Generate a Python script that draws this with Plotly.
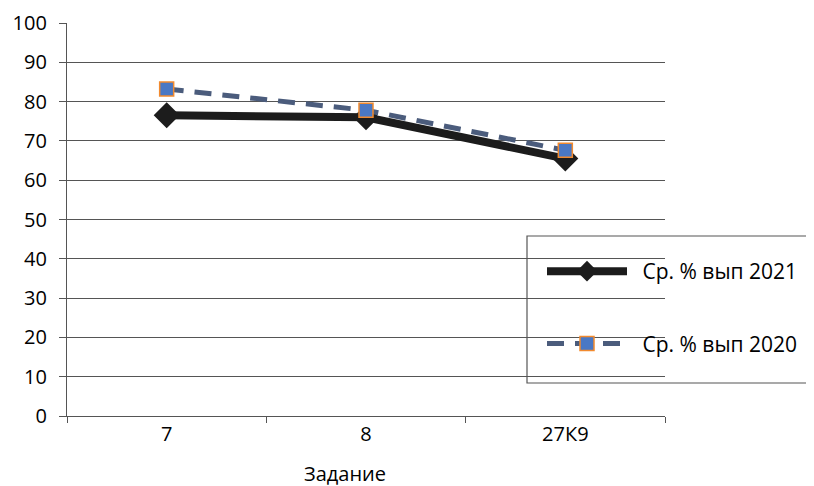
import plotly.graph_objects as go

categories = ["7", "8", "27К9"]
values_2021 = [76.5, 76.0, 65.5]
values_2020 = [83.2, 77.8, 67.6]
series_names = ["Ср. % вып 2021", "Ср. % вып 2020"]
y_ticks = [0, 10, 20, 30, 40, 50, 60, 70, 80, 90, 100]

FONT = "Open Sans"
W, H = 814, 486
OFF = 8  # page body margin offset
# target plot area in screen pixels
SX0, SX1, SY0, SY1 = 67, 665, 23, 416
L = SX0 - OFF
T = SY0 - OFF
R = W - (SX1 - OFF)
B = H - (SY1 - OFF)
pw, ph = SX1 - SX0, SY1 - SY0

def px_x(x):
    return (x - SX0) / pw

def px_y(y):
    return (SY1 - y) / ph

fig = go.Figure()
fig.add_trace(go.Scatter(
    x=categories, y=values_2021, name="\u2002" + series_names[0], mode="lines+markers",
    line=dict(color="#1c1c1c", width=8),
    marker=dict(symbol="diamond", size=20, color="#1c1c1c", line=dict(width=0)),
    legendgroup="a",
))
fig.add_trace(go.Scatter(
    x=categories, y=values_2020, name="\u2002" + series_names[1], mode="lines+markers",
    line=dict(color="#4B5C7C", width=5, dash="17px,11px"),
    marker=dict(symbol="square", size=14, color="#4A78C4", line=dict(color="#F28A2E", width=1.5)),
    legendgroup="b",
))

# legend frame
fig.add_shape(type="rect", xref="paper", yref="paper",
              x0=px_x(527), x1=px_x(840), y0=px_y(383), y1=px_y(236),
              line=dict(color="#555555", width=1.2), fillcolor="white", layer="below")

fig.add_annotation(text="Задание", xref="paper", yref="paper",
                   x=px_x(345), y=px_y(474), yanchor="middle", showarrow=False,
                   font=dict(family=FONT, size=20, color="#000"))
fig.add_annotation(text="Рис. 8", xref="paper", yref="paper",
                   x=px_x(455), y=px_y(478), yanchor="top", showarrow=False,
                   font=dict(family=FONT, size=20, color="#000"))

fig.update_layout(
    width=W, height=H,
    margin=dict(l=L, r=R, t=T, b=B, pad=0, autoexpand=False),
    paper_bgcolor="white", plot_bgcolor="white",
    font=dict(family=FONT, size=20, color="#000"),
    showlegend=True,
    legend=dict(xref="container", yref="container",
                x=(542 - OFF) / W, y=1 - (251 - OFF) / H, xanchor="left", yanchor="top",
                bgcolor="rgba(0,0,0,0)", borderwidth=0,
                itemwidth=80, tracegroupgap=42,
                font=dict(family=FONT, size=21, color="#000")),
    xaxis=dict(type="category", range=[-0.5, 2.5], showgrid=False,
               showline=True, linecolor="#555555", linewidth=1.2,
               ticks="outside", ticklen=6, tickcolor="#555555",
               tickson="boundaries", zeroline=False, fixedrange=True,
               automargin=False),
    yaxis=dict(range=[0, 100], tickvals=y_ticks, showgrid=True,
               gridcolor="#555555", gridwidth=1.2,
               showline=True, linecolor="#555555", linewidth=1.2,
               ticks="outside", ticklen=7, tickcolor="#555555",
               ticklabelstandoff=8, zeroline=False, fixedrange=True,
               automargin=False),
)

fig.write_html("out.html")
